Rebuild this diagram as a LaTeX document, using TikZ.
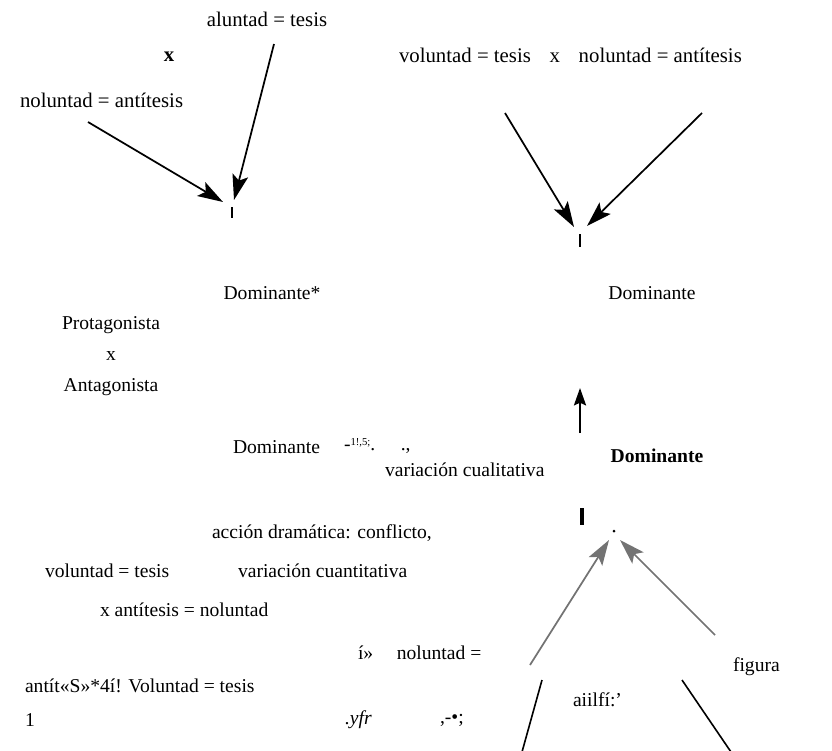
\documentclass[tikz,border=0pt]{standalone}
\usepackage{fontspec}
\setmainfont{Liberation Serif}
\usetikzlibrary{arrows.meta}
\begin{document}
\begin{tikzpicture}[x=0.75pt,y=-0.75pt,
  txt/.style={inner sep=0pt,outer sep=0pt,font=\fontsize{14.7}{17}\selectfont},
  bigtxt/.style={txt,font=\fontsize{15.6}{18}\selectfont},
  arr/.style={line width=1.3pt,-{Stealth[length=19pt,width=12pt,inset=4pt]}},
  garr/.style={arr,draw=black!55},
  bar/.style={line width=1.5pt},
  gline/.style={line width=1.2pt}]
\useasboundingbox (0,0) rectangle (832,750);
% top left
\node[bigtxt] (alu) at (267,19) {aluntad = tesis};
\node[bigtxt,font=\fontsize{15.6}{18}\selectfont\bfseries] (x1) at (169,57) {x};
\node[bigtxt,anchor=west] (nol1) at (20,100) {noluntad = antítesis};
\coordinate (a1s) at (88,122);
\coordinate (a1t) at (223,202);
\coordinate (a2s) at (274,44);
\coordinate (a2t) at (234,200);
\draw[arr] (a1s) -- (a1t);
\draw[arr] (a2s) -- (a2t);
\coordinate (b1a) at (232,207);
\coordinate (b1b) at (232,218);
\draw[bar] (b1a) -- (b1b);
% top right
\node[bigtxt,anchor=west] (vt) at (399,55) {voluntad = tesis\hspace{0.9em}x\hspace{0.9em}noluntad = antítesis};
\coordinate (a3s) at (505,113);
\coordinate (a3t) at (574,227);
\coordinate (a4s) at (702,113);
\coordinate (a4t) at (587,226);
\draw[arr] (a3s) -- (a3t);
\draw[arr] (a4s) -- (a4t);
\coordinate (b2a) at (580,234);
\coordinate (b2b) at (580,247);
\draw[bar] (b2a) -- (b2b);
% middle
\node[txt] (dom1) at (272,293) {Dominante*};
\node[txt] (dom2) at (652,293) {Dominante};
\node[txt] (prot) at (111,325) {Protagonista};
\node[txt] (x2) at (111,356) {x};
\node[txt] (anta) at (111,387) {Antagonista};
\coordinate (upS) at (580,433);
\coordinate (upT) at (580,388);
\draw[line width=1.9pt,-{Stealth[length=13pt,width=9pt,inset=2pt]}] (upS) -- (upT);
\node[txt,anchor=west] (dom3) at (233,447) {Dominante};
\node[txt,anchor=west] (junk1) at (344,446) {-\raisebox{0.55ex}{\fontsize{8}{9}\selectfont 1!,5;}.\hspace{1.3em}.,};
\node[txt,anchor=west] (vcual) at (385,470) {variación cualitativa};
\node[txt,font=\fontsize{14.7}{17}\selectfont\bfseries] (dom4) at (657,456) {Dominante};
\coordinate (b3a) at (582,508);
\coordinate (b3b) at (582,525);
\draw[line width=2.3pt] (b3a) -- (b3b);
% lower
\node[txt,anchor=west] (accion) at (212,533) {acción dramática: conflicto,};
\node[txt,anchor=west] (vt2) at (45,571) {voluntad = tesis};
\node[txt,anchor=west] (vcuan) at (238,571) {variación cuantitativa};
\node[txt,anchor=west] (xan) at (100,610) {x antítesis = noluntad};
\node[txt,anchor=west] (inol) at (358,653) {í»\hspace{1.2em}noluntad =};
\node[txt,anchor=west] (antit) at (25,686) {antít«S»*4í! Voluntad = tesis};
\node[txt,anchor=west] (one) at (25,720) {1};
\node[txt,anchor=west] (yfr) at (345,720) {\itshape .yfr};
\node[txt,anchor=west] (punct) at (440,720) {,-•;};
\node[txt,anchor=west] (aiil) at (573,700) {aiilfí:'};
\node[txt,anchor=west] (fig) at (733,667) {figura};
\coordinate (g1s) at (530,665);
\coordinate (g1t) at (609,540);
\coordinate (g2s) at (715,635);
\coordinate (g2t) at (620,540);
\draw[garr] (g1s) -- (g1t);
\draw[garr] (g2s) -- (g2t);
\coordinate (dot) at (614,531);
\fill (dot) circle (1.5);
\coordinate (l1a) at (542,680);
\coordinate (l1b) at (522,752);
\coordinate (l2a) at (682,680);
\coordinate (l2b) at (731,752);
\draw[gline] (l1a) -- (l1b);
\draw[gline] (l2a) -- (l2b);
\end{tikzpicture}
\end{document}
